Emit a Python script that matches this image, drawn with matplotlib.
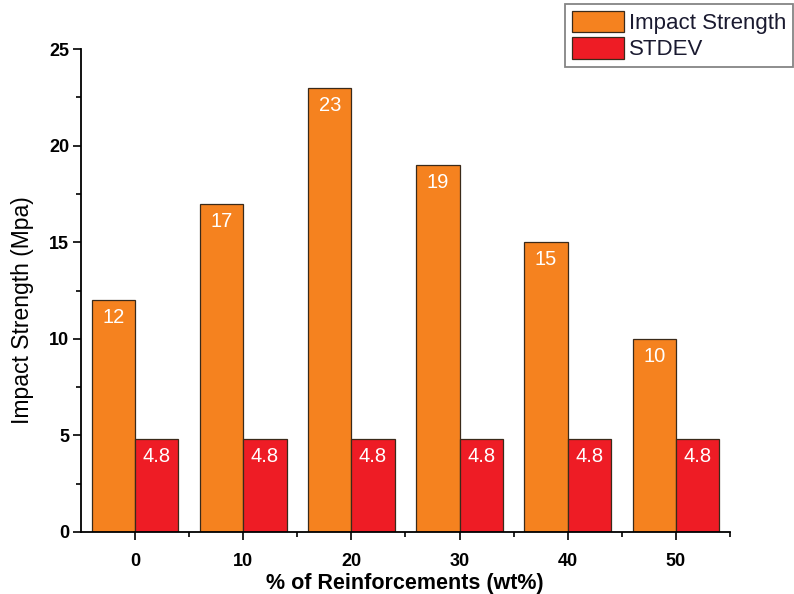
import matplotlib
matplotlib.use("Agg")
import matplotlib.pyplot as plt
import numpy as np
from matplotlib.ticker import MultipleLocator

categories = ["0", "10", "20", "30", "40", "50"]
impact = [12, 17, 23, 19, 15, 10]
stdev = [4.8, 4.8, 4.8, 4.8, 4.8, 4.8]

plt.rcParams['font.family'] = ['Liberation Sans', 'DejaVu Sans']

fig = plt.figure(figsize=(7.94, 5.94), dpi=100)
ax = fig.add_axes([81/794, 62/594, (730-81)/794, (532-49)/594])

x = np.arange(len(categories))
w = 0.4
orange = "#F5821F"
red = "#EE1C25"
b1 = ax.bar(x - w/2, impact, w, color=orange, edgecolor="#3a2a1a", linewidth=0.9, label="Impact Strength")
b2 = ax.bar(x + w/2, stdev, w, color=red, edgecolor="#3a2a1a", linewidth=0.9, label="STDEV")

for rect, v in zip(b1, impact):
    ax.text(rect.get_x() + rect.get_width()/2, v - 0.42, f"{v:g}", ha="center", va="top",
            color="white", fontsize=14.5)
for rect, v in zip(b2, stdev):
    ax.text(rect.get_x() + rect.get_width()/2, v - 0.42, f"{v:g}", ha="center", va="top",
            color="white", fontsize=14.5)

ax.set_xlim(-0.5, 5.5)
ax.set_ylim(0, 25)
ax.set_xticks(x)
ax.set_xticklabels(categories, fontweight="bold", fontsize=13)
ax.set_xticks(x + 0.5, minor=True)
ax.yaxis.set_major_locator(MultipleLocator(5))
ax.yaxis.set_minor_locator(MultipleLocator(2.5))
ax.set_yticks([0, 5, 10, 15, 20, 25])
ax.set_yticklabels(["0", "5", "10", "15", "20", "25"], fontweight="bold", fontsize=13)
ax.tick_params(axis="both", which="major", length=6, width=1.2, direction="out")
ax.tick_params(axis="both", which="minor", length=3.5, width=1.2, direction="out")
ax.tick_params(axis="x", pad=9)
ax.tick_params(axis="y", pad=2.5)

ax.spines["top"].set_visible(False)
ax.spines["right"].set_visible(False)
ax.spines["left"].set_linewidth(1.3)
ax.spines["bottom"].set_linewidth(1.3)

ax.set_xlabel("% of Reinforcements (wt%)", fontweight="bold", fontsize=15.5)
ax.xaxis.set_label_coords((405 - 81) / 649, (532 - 583) / 483)
ax.xaxis.label.set_va("center")
ax.set_ylabel("Impact Strength (Mpa)", fontsize=16.5)
ax.yaxis.set_label_coords((22 - 81) / 649, (532 - 310) / 483)
ax.yaxis.label.set_va("center")

leg = fig.legend(handles=[b1, b2], loc="upper left", bbox_to_anchor=(565/794, 1 - 4/594),
                 fontsize=16, frameon=True, fancybox=False, edgecolor="#666666",
                 handlelength=2.35, handleheight=1.1, handletextpad=0.25, labelspacing=0.15,
                 borderpad=0.3, borderaxespad=0)
leg.get_frame().set_linewidth(1.3)
for t in leg.get_texts():
    t.set_color("#1a1a30")

fig.savefig("out.png", dpi=100)
